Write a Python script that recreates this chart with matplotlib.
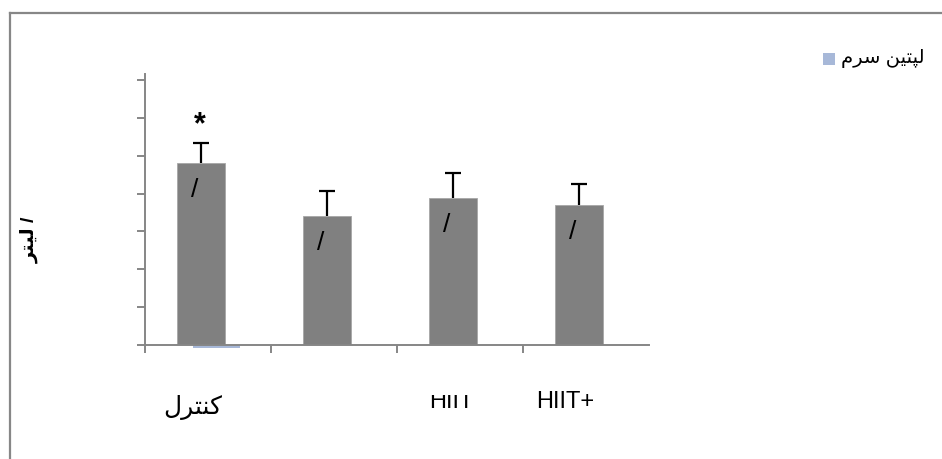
import matplotlib
matplotlib.use("Agg")
import matplotlib.pyplot as plt
from matplotlib.patches import Rectangle
from matplotlib.lines import Line2D
from matplotlib.transforms import Bbox, TransformedBbox

plt.rcParams['font.family'] = ['Liberation Sans', 'DejaVu Sans']

# ---------------- data ----------------
categories = ["کنترل", "", "HIIT", "HIIT+"]
gray_values = [4.82, 3.42, 3.89, 3.69]
gray_errors = [0.52, 0.64, 0.66, 0.57]
bar_value_labels = ["/", "/", "/", "/"]
significance = ["*", "", "", ""]
serum_values = [-0.09, 0.0, 0.0, 0.0]
serum_name = "لپتین سرم"
y_label = "/ لیتر"
y_ticks = [0, 1, 2, 3, 4, 5, 6, 7]

# ---------------- simple Arabic/Persian shaping ----------------
FORMS = {
    'ل': ('\uFEDD', '\uFEDE', '\uFEDF', '\uFEE0'),
    'ر': ('\uFEAD', '\uFEAE', None, None),
    'ت': ('\uFE95', '\uFE96', '\uFE97', '\uFE98'),
    'ن': ('\uFEE5', '\uFEE6', '\uFEE7', '\uFEE8'),
    'ک': ('\uFB8E', '\uFB8F', '\uFB90', '\uFB91'),
    'پ': ('\uFB56', '\uFB57', '\uFB58', '\uFB59'),
    'ی': ('\uFBFC', '\uFBFD', '\uFBFE', '\uFBFF'),
    'س': ('\uFEB1', '\uFEB2', '\uFEB3', '\uFEB4'),
    'م': ('\uFEE1', '\uFEE2', '\uFEE3', '\uFEE4'),
}


def dual(c):
    return c in FORMS and FORMS[c][2] is not None


def shape(text):
    if not any(c in FORMS for c in text):
        return text
    out = []
    for i, c in enumerate(text):
        if c not in FORMS:
            out.append(c)
            continue
        prev = text[i - 1] if i > 0 else ''
        nxt = text[i + 1] if i + 1 < len(text) else ''
        cp = dual(prev)
        cn = dual(c) and nxt in FORMS
        f = FORMS[c]
        if cp and cn:
            out.append(f[3])
        elif cp:
            out.append(f[1])
        elif cn:
            out.append(f[2])
        else:
            out.append(f[0])
    return ''.join(out[::-1])


# ---------------- figure ----------------
W, H = 942, 459
fig = plt.figure(figsize=(W / 100, H / 100), dpi=100)
fig.patch.set_facecolor('white')

def fx(px):
    return px / W

def fy(py):
    return 1 - py / H

ax = fig.add_axes([fx(145), fy(345), fx(649) - fx(145), fy(74) - fy(345)])
ax.set_facecolor('none')

n = len(categories)
centers = [i + 0.5 for i in range(n)]
gray_x = [c - 0.055 for c in centers]
blue_x = [c + 0.067 for c in centers]
bw = 0.38

ax.bar(gray_x, gray_values, width=bw, color='#808080', edgecolor='#a6a6a6',
       linewidth=0.6, zorder=2)
eb = ax.errorbar(gray_x, gray_values, yerr=[[0] * n, gray_errors], fmt='none',
                 ecolor='black', elinewidth=1.6, capsize=5.5, capthick=1.6, zorder=3)
# show only the upper caps (as in the original)
if len(eb[1]) >= 2:
    eb[1][0].set_visible(False)
ax.bar(blue_x, serum_values, width=bw, color='#A7B8D8', linewidth=0,
       clip_on=False, zorder=1)

ax.set_xlim(0, n)
ax.set_ylim(0, 7.16)
ax.set_yticks(y_ticks)
ax.set_yticklabels([])
ax.set_xticks(list(range(n)))
ax.set_xticklabels([])
axis_col = '#868686'
for s in ['top', 'right']:
    ax.spines[s].set_visible(False)
for s in ['left', 'bottom']:
    ax.spines[s].set_color(axis_col)
    ax.spines[s].set_linewidth(1.4)
ax.tick_params(axis='both', direction='out', length=6, width=1.4, color=axis_col)

# slash labels inside bars & significance marks
for x, v, e, lab, sig in zip(gray_x, gray_values, gray_errors, bar_value_labels, significance):
    ax.annotate(lab, xy=(x, v), xytext=(-4.7, -19.5), textcoords='offset points',
                ha='center', va='center', fontsize=19, color='black', zorder=4)
    if sig:
        ax.annotate(sig, xy=(x, v + e), xytext=(-0.7, 13), textcoords='offset points',
                    ha='center', va='center', fontsize=22, fontweight='bold',
                    color='black', zorder=4)

# category labels (offset from categories like the original)
label_x = [0.381, 1.5, 2.433, 3.333]
for i, (lx, lab) in enumerate(zip(label_x, categories)):
    if not lab:
        continue
    if i == 0:
        t = fig.text(fx(145 + lx * 126), fy(408), shape(lab), ha='center', va='center',
                     fontsize=18, color='black')
    else:
        t = fig.text(fx(145 + lx * 126), fy(408), shape(lab), ha='center',
                     va='baseline', fontsize=17, color='black')
        if i == 2:
            bb = TransformedBbox(Bbox([[0, 0], [1, fy(395)]]), fig.transFigure)
            t.set_clip_box(bb)
            t.set_clip_on(True)

# y label
fig.text(fx(30), fy(240), shape(y_label), rotation=90, ha='center', va='center',
         fontsize=14, fontweight='bold', color='black')

# legend
fig.patches.append(Rectangle((fx(823), fy(65)), fx(12), 12 / H, transform=fig.transFigure,
                             facecolor='#A7B8D8', edgecolor='none'))
fig.text(fx(841), fy(58), shape(serum_name), ha='left', va='center', fontsize=14,
         color='black')

# chart border (only top and left visible)
fig.lines.append(Line2D([fx(9.5), fx(9.5)], [0, fy(13)], transform=fig.transFigure,
                        color='#878787', linewidth=1.6))
fig.lines.append(Line2D([fx(9.5), 1], [fy(13), fy(13)], transform=fig.transFigure,
                        color='#878787', linewidth=1.6))

fig.savefig('out.png', dpi=100, facecolor='white')
